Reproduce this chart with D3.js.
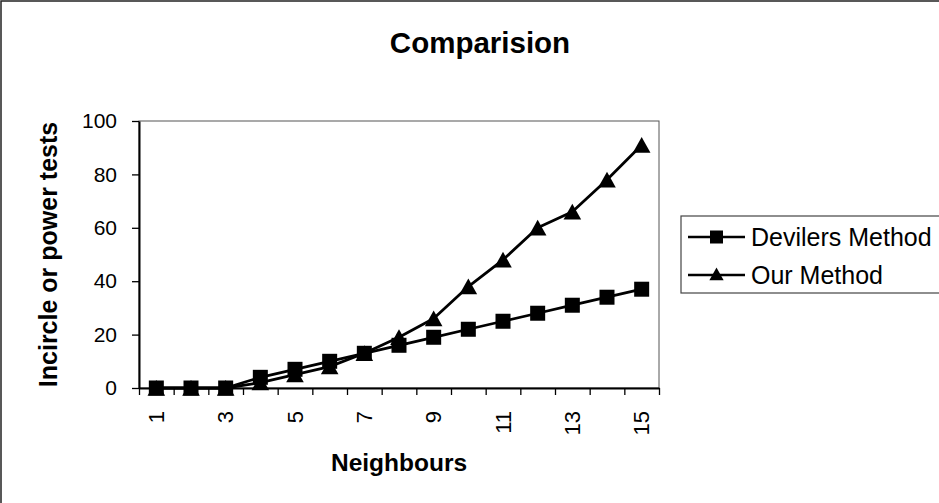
<!DOCTYPE html>
<html>
<head>
<meta charset="utf-8">
<script src="https://cdn.jsdelivr.net/npm/d3@7"></script>
<style>
  html, body { margin: 0; padding: 0; background: #fff; }
  svg { display: block; font-family: "Liberation Sans", Arial, sans-serif; }
</style>
</head>
<body>
<svg id="chart" width="939" height="503"></svg>
<script>
const categories = [1,2,3,4,5,6,7,8,9,10,11,12,13,14,15];
const devilersValues = [0,0,0,4,7,10,13,16,19,22,25,28,31,34,37];
const ourValues = [0,0,0,2,5,8,13,19,26,38,48,60,66,78,91];
const yTicks = [0,20,40,60,80,100];
const xTickLabels = [1,3,5,7,9,11,13,15];
const seriesNames = ["Devilers Method", "Our Method"];
const chartTitle = "Comparision";
const xTitle = "Neighbours";
const yTitle = "Incircle or power tests";

const svg = d3.select("#chart");
const W = 939, H = 503;
const plot = {left: 139, right: 659, top: 121, bottom: 388};

// outer chart border
svg.append("rect").attr("x", 1).attr("y", 1).attr("width", W + 10).attr("height", H + 10)
  .attr("fill", "#fff").attr("stroke", "#222").attr("stroke-width", 1.5);

const x = d3.scaleBand().domain(categories).range([plot.left, plot.right]).padding(0);
const xEdges = d3.scaleLinear().domain([0, categories.length]).range([plot.left, plot.right]);
const y = d3.scaleLinear().domain([0, 100]).range([plot.bottom, plot.top]);

// plot area border
svg.append("rect").attr("x", plot.left).attr("y", plot.top)
  .attr("width", plot.right - plot.left).attr("height", plot.bottom - plot.top)
  .attr("fill", "none").attr("stroke", "#555").attr("stroke-width", 1);

// y axis
const yAxis = svg.append("g").attr("transform", `translate(${plot.left},0)`)
  .call(d3.axisLeft(y).tickValues(yTicks).tickSize(7).tickPadding(15).tickSizeOuter(0));
yAxis.select(".domain").attr("stroke", "#000").attr("stroke-width", 2);
yAxis.selectAll(".tick line").attr("stroke", "#000").attr("stroke-width", 1.3);
yAxis.selectAll(".tick text").attr("font-size", 21).attr("fill", "#000")
  .attr("font-family", "Liberation Sans, Arial, sans-serif");

// x axis (ticks at category boundaries)
const xAxis = svg.append("g").attr("transform", `translate(0,${plot.bottom})`)
  .call(d3.axisBottom(xEdges).tickValues(d3.range(0, categories.length + 1)).tickSize(7).tickFormat("").tickSizeOuter(0));
xAxis.select(".domain").attr("stroke", "#000").attr("stroke-width", 2);
xAxis.selectAll(".tick line").attr("stroke", "#000").attr("stroke-width", 1.3);

// x tick labels, rotated
svg.append("g").selectAll("text").data(xTickLabels).join("text")
  .attr("transform", d => `translate(${x(d) + x.bandwidth() / 2},411) rotate(-90)`)
  .attr("text-anchor", "end").attr("dy", "0.35em")
  .attr("font-size", 22).attr("fill", "#000")
  .text(d => d);

// lines
const line = d3.line().x((d, i) => x(categories[i]) + x.bandwidth() / 2).y(d => y(d));
[devilersValues, ourValues].forEach(vals => {
  svg.append("path").datum(vals).attr("d", line)
    .attr("fill", "none").attr("stroke", "#000").attr("stroke-width", 2.8).attr("stroke-linejoin", "round");
});

// markers
const sq = 15;
svg.append("g").selectAll("rect").data(devilersValues).join("rect")
  .attr("x", (d, i) => x(categories[i]) + x.bandwidth() / 2 - sq / 2)
  .attr("y", d => y(d) - sq / 2)
  .attr("width", sq).attr("height", sq).attr("fill", "#000");

const tri = (cx, cy, s) => `M${cx},${cy - s * 0.5}L${cx + s * 0.55},${cy + s * 0.48}L${cx - s * 0.55},${cy + s * 0.48}Z`;
svg.append("g").selectAll("path").data(ourValues).join("path")
  .attr("d", (d, i) => tri(x(categories[i]) + x.bandwidth() / 2, y(d), 16))
  .attr("fill", "#000");

// title
svg.append("text").attr("x", 480).attr("y", 53).attr("text-anchor", "middle")
  .attr("font-size", 29.5).attr("font-weight", "bold").text(chartTitle);

// axis titles
svg.append("text").attr("x", 399).attr("y", 471).attr("text-anchor", "middle")
  .attr("font-size", 24.5).attr("font-weight", "bold").text(xTitle);
svg.append("text").attr("transform", `translate(57,${(plot.top + plot.bottom) / 2}) rotate(-90)`)
  .attr("text-anchor", "middle").attr("font-size", 25).attr("font-weight", "bold").text(yTitle);

// legend
const lg = svg.append("g");
lg.append("rect").attr("x", 681).attr("y", 216).attr("width", 300).attr("height", 77)
  .attr("fill", "#fff").attr("stroke", "#444").attr("stroke-width", 1.2);
const legendRows = [237, 275];
seriesNames.forEach((name, i) => {
  const ly = legendRows[i];
  lg.append("line").attr("x1", 688).attr("x2", 745).attr("y1", ly).attr("y2", ly)
    .attr("stroke", "#000").attr("stroke-width", 2.5);
  if (i === 0) {
    lg.append("rect").attr("x", 716.5 - 6.5).attr("y", ly - 6.5).attr("width", 13).attr("height", 13).attr("fill", "#000");
  } else {
    lg.append("path").attr("d", tri(716.5, ly - 1, 13)).attr("fill", "#000");
  }
  lg.append("text").attr("x", 751).attr("y", ly).attr("dy", "0.35em")
    .attr("font-size", 25).attr("fill", "#000").text(name);
});
</script>
</body>
</html>
